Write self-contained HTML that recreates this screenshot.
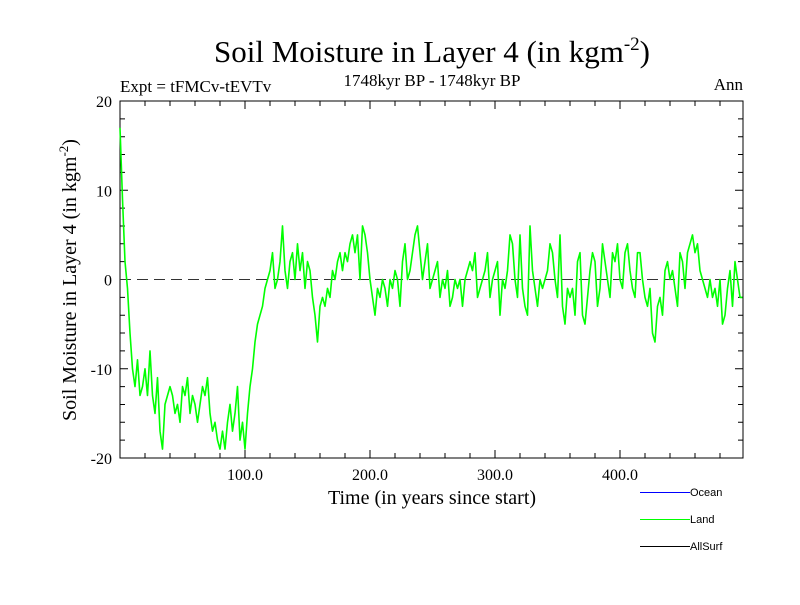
<!DOCTYPE html>
<html><head><meta charset="utf-8"><style>
body{margin:0;background:#fff;}
svg text{font-family:"Liberation Serif",serif;}
</style></head><body>
<svg width="800" height="600" viewBox="0 0 800 600" xmlns="http://www.w3.org/2000/svg">
<text x="432" y="62" font-size="31" text-anchor="middle">Soil Moisture in Layer 4 (in kgm<tspan dy="-12" font-size="19">-2</tspan><tspan dy="12">)</tspan></text>
<text x="120" y="92" font-size="17">Expt = tFMCv-tEVTv</text>
<text x="432" y="86" font-size="17" text-anchor="middle">1748kyr BP - 1748kyr BP</text>
<text x="743" y="90" font-size="17" text-anchor="end">Ann</text>
<g id="axes"></g>
<g id="series"></g>
<text transform="translate(76,280) rotate(-90)" font-size="20" text-anchor="middle">Soil Moisture in Layer 4 (in kgm<tspan dy="-8" font-size="13">-2</tspan><tspan dy="8">)</tspan></text>
<text x="432" y="504" font-size="20" text-anchor="middle">Time (in years since start)</text>
<g>
<line x1="640" y1="492.5" x2="690" y2="492.5" stroke="#0000ff"/>
<text x="690" y="496" style="font-family:'Liberation Sans',sans-serif" font-size="11">Ocean</text>
<line x1="640" y1="519.5" x2="690" y2="519.5" stroke="#00ff00"/>
<text x="690" y="523" style="font-family:'Liberation Sans',sans-serif" font-size="11">Land</text>
<line x1="640" y1="546.5" x2="690" y2="546.5" stroke="#000"/>
<text x="690" y="550" style="font-family:'Liberation Sans',sans-serif" font-size="11">AllSurf</text>
</g>
</svg>
<script>
const years = [];
const landValues = [
17,9,2,-1,-6,-10,-12,-9,-13,-12,
-10,-13,-8,-13,-15,-11,-17,-19,-14,-13,
-12,-13,-15,-14,-16,-12,-13,-11,-15,-13,
-14,-16,-14,-12,-13,-11,-15,-17,-16,-18,
-19,-17,-19,-16,-14,-17,-15,-12,-18,-16,
-19,-15,-12,-10,-7,-5,-4,-3,-1,0,
1,3,-1,0,2,6,1,-1,2,3,
0,4,1,3,-1,2,1,-2,-4,-7,
-3,-2,-3,-1,-2,1,0,2,3,1,
3,2,4,5,3,5,0,6,5,3,
0,-2,-4,-1,-2,0,-1,-3,0,-1,
1,0,-3,2,4,0,1,3,5,6,
3,0,2,4,-1,0,1,2,-2,0,
-1,1,-3,-2,0,-1,0,-3,0,1,
2,1,3,-2,-1,0,1,3,-2,0,
1,2,-4,0,-1,1,5,4,0,-2,
5,-1,-3,-4,6,1,-1,-3,0,-1,
0,1,4,3,0,-2,5,-3,-5,-1,
-2,-1,-4,2,3,-4,-5,-2,1,3,
2,-3,-1,4,2,0,-2,3,2,4,
0,-1,3,4,1,-1,-2,3,3,0,
-2,-3,-1,-6,-7,-3,-2,-4,1,2,
0,1,-1,-3,3,2,-1,3,4,5,
3,4,1,0,-1,-2,0,-2,-1,-3,
0,-5,-4,-1,1,-3,2,0,-2,-2];
for (let i = 0; i < landValues.length; i++) years.push(i * 2);
const xTickLabels = ["100.0","200.0","300.0","400.0"];
const xTickValues = [100,200,300,400];
const yTickValues = [-20,-10,0,10,20];
const yTickLabels = ["-20","-10","0","10","20"];

const L=120,R=743,T=101,B=458,X0=0,X1=498.4,Y0=-20,Y1=20;
const xs=v=>L+(v-X0)/(X1-X0)*(R-L);
const ys=v=>B-(v-Y0)/(Y1-Y0)*(B-T);
const NS="http://www.w3.org/2000/svg";
const axes=document.getElementById('axes');
function mk(tag,attrs,parent){const e=document.createElementNS(NS,tag);for(const k in attrs)e.setAttribute(k,attrs[k]);parent.appendChild(e);return e;}
let r=mk('rect',{x:L,y:T,width:R-L,height:B-T,fill:'none',stroke:'#000','stroke-width':1},axes);


let tk='';
for(let v=20;v<X1;v+=20){const x=xs(v);const len=(v%100===0)?8:5;tk+=`M${x},${B}v${-len}M${x},${T}v${len}`;}
for(let v=Y0+2;v<Y1;v+=2){const y=ys(v);const len=(v%10===0)?8:5;tk+=`M${L},${y}h${len}M${R},${y}h${-len}`;}
let tp=mk('path',{d:tk,stroke:'#000','stroke-width':1,fill:'none'},axes);


xTickValues.forEach((v,i)=>{const t=mk('text',{x:xs(v),y:B+22,'font-size':16,'text-anchor':'middle'},axes);t.textContent=xTickLabels[i];

});
yTickValues.forEach((v,i)=>{const t=mk('text',{x:L-8,y:ys(v)+6,'font-size':16,'text-anchor':'end'},axes);t.textContent=yTickLabels[i];

});
let z=mk('line',{x1:L,x2:R,y1:ys(0),y2:ys(0),stroke:'#333','stroke-dasharray':'11,6','stroke-width':1},axes);


const pts=landValues.map((v,i)=>xs(years[i]).toFixed(1)+','+ys(v).toFixed(1)).join(' ');
let pl=mk('polyline',{points:pts,fill:'none',stroke:'#00ff00','stroke-width':1.6,'stroke-linejoin':'round'},document.getElementById('series'));


</script>
</body></html>
